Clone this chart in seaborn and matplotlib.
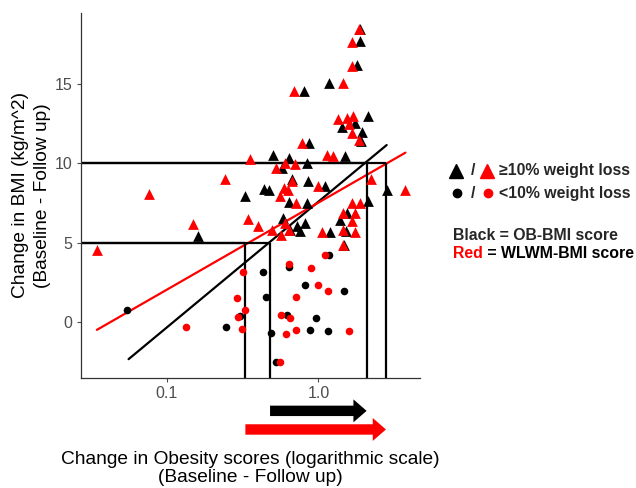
import numpy as np
import pandas as pd
import matplotlib
matplotlib.use("Agg")
import matplotlib.pyplot as plt
import seaborn as sns
from matplotlib.lines import Line2D
from matplotlib.patches import FancyArrowPatch
from matplotlib.ticker import NullLocator
from matplotlib.transforms import blended_transform_factory

# --- data ---
# OB-BMI score (black), >=10% weight loss
ob_tri_x = [0.160, 0.328, 0.441, 0.475, 0.505, 0.573, 0.644, 0.667, 0.644, 0.588,
            0.650, 0.757, 0.817, 0.846, 0.859, 0.846, 0.804, 0.873, 1.106, 1.19,
            1.18, 1.50, 1.43, 1.75, 2.14, 1.93, 1.90, 1.88, 1.79, 1.88,
            1.39, 1.54, 1.51, 1.48, 2.14, 2.85, 0.72]
ob_tri_y = [5.40, 7.93, 8.40, 8.35, 10.51, 9.73, 10.36, 9.03, 7.55, 6.56,
            5.82, 5.76, 6.24, 7.47, 8.88, 10.04, 14.58, 11.31, 8.57, 5.65,
            15.11, 10.46, 12.30, 12.57, 13.0, 11.98, 11.41, 17.74, 16.20, 18.52,
            6.41, 6.88, 5.76, 4.87, 7.62, 8.31, 6.08]
# WLWM-BMI score (red), >=10% weight loss
wl_tri_x = [0.0345, 0.0765, 0.148, 0.243, 0.354, 0.342, 0.402, 0.526, 0.603, 0.559,
            0.594, 0.634, 0.667, 0.702, 0.691, 0.776, 0.712, 0.492, 0.565, 0.600,
            0.640, 1.0, 1.05, 1.135, 1.256, 1.46, 1.355, 1.54, 1.70, 1.60,
            1.66, 1.84, 1.66, 1.66, 1.84, 1.45, 1.66, 1.88, 1.66, 1.75,
            1.46, 1.75, 1.45, 2.22, 3.73]
wl_tri_y = [4.51, 8.10, 6.20, 9.03, 10.25, 6.52, 6.08, 9.73, 10.04, 7.93,
            8.46, 8.35, 8.88, 9.94, 14.58, 11.31, 7.51, 5.82, 5.51, 6.24,
            5.82, 8.57, 5.65, 10.51, 10.46, 15.11, 12.83, 12.89, 13.0, 12.47,
            11.94, 11.48, 16.16, 17.68, 18.52, 6.88, 7.47, 7.51, 6.35, 6.88,
            5.82, 5.65, 4.87, 8.99, 8.31]
# OB-BMI score (black), <10% weight loss
ob_cir_x = [0.0545, 0.245, 0.305, 0.434, 0.450, 0.488, 0.526, 0.644, 0.620, 0.817,
            0.970, 0.885, 1.153, 1.176, 1.476]
ob_cir_y = [0.76, -0.34, 0.34, 3.15, 1.56, -0.72, -2.51, 3.46, 0.44, 2.30,
            0.23, -0.55, -0.61, 4.24, 1.92]
# WLWM-BMI score (red), <10% weight loss
wl_cir_x = [0.134, 0.320, 0.292, 0.294, 0.329, 0.313, 0.559, 0.565, 0.612, 0.650,
            0.644, 0.710, 0.710, 0.895, 1.0, 1.153, 1.106, 1.60]
wl_cir_y = [-0.30, 3.15, 1.50, 0.30, 0.72, -0.44, -2.51, 0.44, -0.76, 0.23,
            3.67, 1.56, -0.55, 3.40, 2.30, 1.92, 4.24, -0.61]

# fitted lines (end points)
ob_fit_x = [0.056, 2.82]
ob_fit_y = [-2.36, 11.16]
wl_fit_x = [0.0346, 3.75]
wl_fit_y = [-0.51, 10.68]

# 5 and 10 BMI-unit cut points on each score
cut_x = [0.33, 0.48, 2.08, 2.79]
cut_y = [5, 5, 10, 10]
ob_arrow = [0.48, 2.08]
wl_arrow = [0.33, 2.79]

xlim = (0.0272, 4.68)
ylim = (-3.55, 19.5)

sns.set_theme(style="ticks")
plt.rcParams['font.family'] = ['Liberation Sans', 'DejaVu Sans']

df = pd.concat([
    pd.DataFrame({'x': ob_tri_x, 'y': ob_tri_y, 'score': 'OB', 'loss': 'ge10'}),
    pd.DataFrame({'x': ob_cir_x, 'y': ob_cir_y, 'score': 'OB', 'loss': 'lt10'}),
    pd.DataFrame({'x': wl_tri_x, 'y': wl_tri_y, 'score': 'WLWM', 'loss': 'ge10'}),
    pd.DataFrame({'x': wl_cir_x, 'y': wl_cir_y, 'score': 'WLWM', 'loss': 'lt10'}),
], ignore_index=True)
pal = {'OB': 'black', 'WLWM': '#ff0000'}

fig = plt.figure(figsize=(6.36, 4.88), dpi=100)
ax = fig.add_axes([0.1274, 0.2254, 0.533, 0.748])

for score in ['OB', 'WLWM']:
    sub = df[df.score == score]
    sns.scatterplot(data=sub[sub.loss == 'ge10'], x='x', y='y', color=pal[score],
                    marker='^', s=60, linewidth=0, ax=ax, legend=False, zorder=3)
    sns.scatterplot(data=sub[sub.loss == 'lt10'], x='x', y='y', color=pal[score],
                    marker='o', s=30, linewidth=0, ax=ax, legend=False, zorder=3)

sns.lineplot(x=ob_fit_x, y=ob_fit_y, color='black', lw=1.6, ax=ax, zorder=2)
sns.lineplot(x=wl_fit_x, y=wl_fit_y, color='#ff0000', lw=1.6, ax=ax, zorder=2)

ax.set_xscale('log')
ax.set_xlim(xlim)
ax.set_ylim(ylim)
ax.vlines(cut_x, ylim[0], cut_y, color='black', lw=1.6, zorder=2)
ax.hlines(cut_y, xlim[0], cut_x, color='black', lw=1.6, zorder=2)

ax.set_xticks([0.1, 1.0])
ax.set_xticklabels(['0.1', '1.0'])
ax.xaxis.set_minor_locator(NullLocator())
ax.set_yticks([0, 5, 10, 15])
ax.tick_params(axis='both', labelsize=11.5, colors='#4d4d4d', length=3, width=0.8,
               labelcolor='#4d4d4d', pad=3)
ax.set_xlabel('')
ax.set_ylabel('')
for s in ['left', 'bottom']:
    ax.spines[s].set_color('#333333')
    ax.spines[s].set_linewidth(0.9)
sns.despine(ax=ax)

# arrows under the x axis
trans = blended_transform_factory(ax.transData, ax.transAxes)
for (x0, x1), col, yy in [(ob_arrow, 'black', -0.090), (wl_arrow, '#ff0000', -0.141)]:
    arr = FancyArrowPatch((x0, yy), (x1, yy), transform=trans, clip_on=False,
                          arrowstyle='simple,head_length=9.5,head_width=16.5,tail_width=7.5',
                          color=col, mutation_scale=1, shrinkA=0, shrinkB=0, lw=0)
    ax.add_patch(arr)

fig.text(0.393, 0.040, 'Change in Obesity scores (logarithmic scale)\n(Baseline - Follow up)',
         ha='center', va='center', fontsize=13.8, color='black', linespacing=1.1)
fig.text(0.0495, 0.60, 'Change in BMI (kg/m^2)\n(Baseline - Follow up)', rotation=90,
         ha='center', va='center', fontsize=13.8, color='black', linespacing=1.45)

# legend
def fy(py):
    return 1 - py / 488

def fx(px):
    return px / 636

fig.add_artist(Line2D([fx(456)], [fy(170.7)], marker='^', ms=9.5, color='black', lw=0))
fig.add_artist(Line2D([fx(486.7)], [fy(170.7)], marker='^', ms=9.5, color='#ff0000', lw=0))
fig.add_artist(Line2D([fx(456.7)], [fy(193.3)], marker='o', ms=6, color='black', lw=0))
fig.add_artist(Line2D([fx(488.3)], [fy(193.3)], marker='o', ms=6, color='#ff0000', lw=0))
leg_fs = 11.4
for py in [170.7, 193.3]:
    fig.text(fx(473), fy(py), '/', ha='center', va='center', fontsize=leg_fs, fontweight='bold')
fig.text(fx(499), fy(170.7), '≥10% weight loss', ha='left', va='center', fontsize=leg_fs, fontweight='bold')
fig.text(fx(499), fy(193.3), '<10% weight loss', ha='left', va='center', fontsize=leg_fs, fontweight='bold')
fig.text(fx(452.7), fy(236), 'Black = OB-BMI score', ha='left', va='center', fontsize=leg_fs, fontweight='bold')
t = fig.text(fx(452.7), fy(254), 'Red', ha='left', va='center', fontsize=leg_fs, fontweight='bold', color='#ff0000')
ax.annotate(' = WLWM-BMI score', xy=(1, 0.5), xycoords=t, ha='left', va='center',
            fontsize=leg_fs, fontweight='bold', color='black', annotation_clip=False)

fig.savefig('out.png', dpi=100)
